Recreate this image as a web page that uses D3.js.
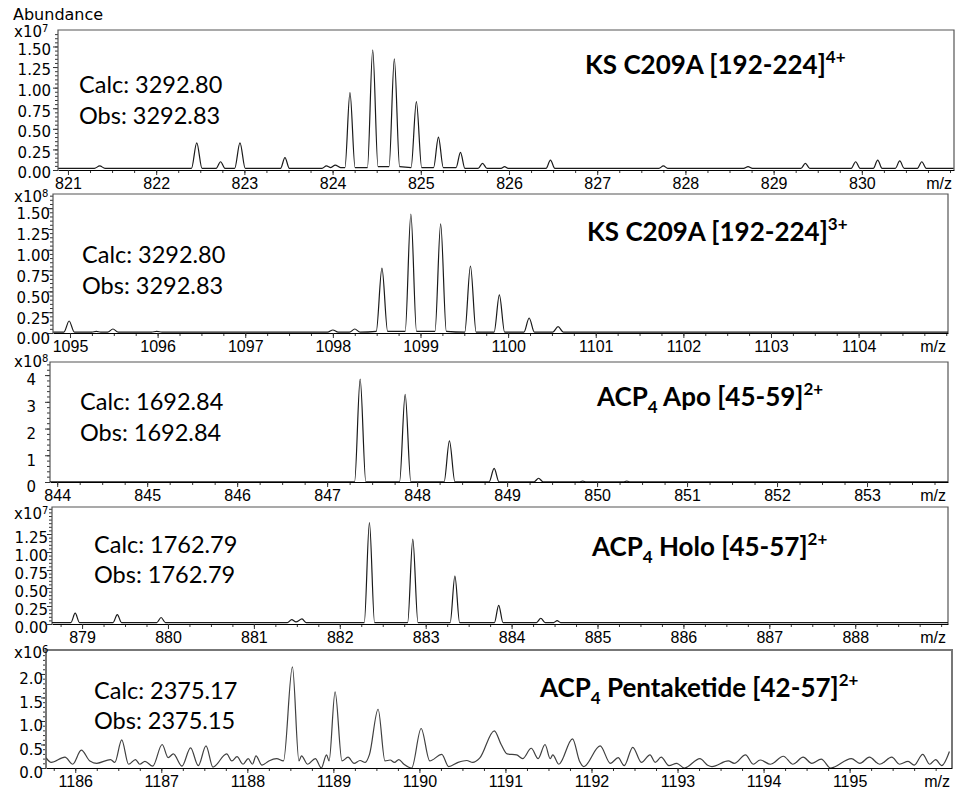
<!DOCTYPE html>
<html>
<head>
<meta charset="utf-8">
<script src="https://cdn.jsdelivr.net/npm/d3@7"></script>
<style>
  body { margin: 0; background: #fff; }
  .xt text { font-family: "Liberation Sans", Arial, sans-serif; font-size: 16px; fill: #000; }
  .yt text { font-family: "DejaVu Sans", sans-serif; font-size: 15px; fill: #000; }
  .lbl { font-family: "DejaVu Sans", sans-serif; font-size: 15px; fill: #000; }
  .note { font-family: Lato, sans-serif; font-size: 23.5px; fill: #000; }
  .title { font-family: Lato, sans-serif; font-size: 26px; font-weight: bold; fill: #000; }
</style>
</head>
<body>
<svg id="chart" width="956" height="790"></svg>
<script>
// profile points [m/z, abundance]
const ksTrace4 = [ // x10^7
  [820.89, 0.02], [821.30, 0.02], [821.36, 0.05], [821.42, 0.02],
  [822.40, 0.02], [822.46, 0.33], [822.52, 0.02],
  [822.68, 0.02], [822.73, 0.10], [822.78, 0.02],
  [822.89, 0.02], [822.95, 0.33], [823.01, 0.02],
  [823.41, 0.02], [823.46, 0.15], [823.51, 0.02],
  [823.88, 0.02], [823.93, 0.05], [823.98, 0.03], [824.03, 0.06], [824.09, 0.03],
  [824.14, 0.03], [824.197, 0.94], [824.255, 0.03],
  [824.395, 0.03], [824.455, 1.46], [824.515, 0.04],
  [824.64, 0.04], [824.70, 1.35], [824.76, 0.04],
  [824.89, 0.03], [824.95, 0.83], [825.01, 0.03],
  [825.145, 0.03], [825.20, 0.40], [825.255, 0.03],
  [825.40, 0.03], [825.45, 0.215], [825.50, 0.02],
  [825.65, 0.02], [825.70, 0.08], [825.75, 0.02],
  [825.91, 0.02], [825.95, 0.04], [825.99, 0.02],
  [826.42, 0.02], [826.47, 0.12], [826.52, 0.02],
  [827.70, 0.02], [827.75, 0.05], [827.80, 0.02],
  [828.66, 0.02], [828.71, 0.04], [828.76, 0.02],
  [829.31, 0.02], [829.36, 0.08], [829.41, 0.02],
  [829.88, 0.02], [829.93, 0.10], [829.98, 0.02],
  [830.13, 0.02], [830.18, 0.12], [830.23, 0.02],
  [830.38, 0.02], [830.43, 0.11], [830.48, 0.02],
  [830.63, 0.02], [830.68, 0.10], [830.73, 0.02],
  [831.04, 0.02]
];

const ksTrace3 = [ // x10^8
  [1094.81, 0.01],
  [1094.93, 0.01], [1094.99, 0.144], [1095.05, 0.01],
  [1095.25, 0.01], [1095.30, 0.02], [1095.35, 0.01],
  [1095.43, 0.01], [1095.49, 0.048], [1095.55, 0.01],
  [1095.93, 0.01], [1095.99, 0.02], [1096.05, 0.01],
  [1097.94, 0.01], [1098.00, 0.036], [1098.06, 0.01],
  [1098.19, 0.01], [1098.25, 0.048], [1098.31, 0.01],
  [1098.495, 0.02], [1098.56, 0.78], [1098.625, 0.02],
  [1098.825, 0.02], [1098.89, 1.43], [1098.955, 0.02],
  [1099.165, 0.02], [1099.23, 1.31], [1099.295, 0.02],
  [1099.505, 0.01], [1099.57, 0.805], [1099.635, 0.01],
  [1099.84, 0.01], [1099.90, 0.457], [1099.96, 0.01],
  [1100.18, 0.01], [1100.24, 0.18], [1100.30, 0.01],
  [1100.51, 0.01], [1100.57, 0.076], [1100.63, 0.01],
  [1105.02, 0.01]
];

const apoTrace = [ // x10^8
  [843.92, 0.01],
  [847.305, 0.01], [847.367, 3.85], [847.43, 0.01],
  [847.805, 0.01], [847.867, 3.28], [847.93, 0.01],
  [848.30, 0.01], [848.359, 1.54], [848.42, 0.01],
  [848.80, 0.01], [848.856, 0.51], [848.91, 0.01],
  [849.30, 0.01], [849.35, 0.14], [849.40, 0.01],
  [849.80, 0.01], [849.84, 0.03], [849.88, 0.01],
  [850.29, 0.01], [850.33, 0.03], [850.37, 0.01],
  [853.90, 0.01]
];

const holoTrace = [ // x10^7
  [878.65, 0.02],
  [878.87, 0.02], [878.92, 0.15], [878.97, 0.02],
  [879.36, 0.02], [879.41, 0.13], [879.46, 0.02],
  [879.87, 0.02], [879.92, 0.09], [879.97, 0.02],
  [881.39, 0.02], [881.44, 0.06], [881.49, 0.03], [881.56, 0.07], [881.61, 0.02],
  [882.285, 0.02], [882.345, 1.41], [882.405, 0.02],
  [882.79, 0.02], [882.85, 1.18], [882.91, 0.02],
  [883.285, 0.02], [883.34, 0.667], [883.395, 0.02],
  [883.80, 0.02], [883.85, 0.26], [883.90, 0.02],
  [884.29, 0.02], [884.34, 0.08], [884.39, 0.02],
  [884.49, 0.02], [884.53, 0.046], [884.57, 0.02],
  [889.08, 0.02]
];

const pentaTrace = [ // x10^6
  [1185.66, 0.22], [1185.72, 0.12], [1185.88, 0.23], [1185.97, 0.08], [1186.07, 0.38],
  [1186.17, 0.15], [1186.25, 0.10], [1186.41, 0.18], [1186.46, 0.12], [1186.54, 0.60],
  [1186.62, 0.08], [1186.70, 0.18], [1186.75, 0.08], [1186.81, 0.14], [1186.90, 0.04],
  [1187.01, 0.50], [1187.08, 0.22], [1187.14, 0.30], [1187.24, 0.04], [1187.34, 0.43],
  [1187.43, 0.05], [1187.52, 0.47], [1187.60, 0.02], [1187.76, 0.30], [1187.82, 0.15],
  [1187.88, 0.24], [1187.95, 0.08], [1188.01, 0.20], [1188.06, 0.08], [1188.10, 0.26],
  [1188.17, 0.06], [1188.25, 0.15], [1188.34, 0.20], [1188.42, 0.15], [1188.524, 2.15],
  [1188.60, 0.15], [1188.63, 0.26], [1188.70, 0.08], [1188.79, 0.20], [1188.86, 0.00],
  [1188.92, 0.28], [1188.95, 0.15], [1189.02, 1.62], [1189.10, 0.15], [1189.17, 0.23],
  [1189.24, 0.10], [1189.31, 0.16], [1189.37, 0.12], [1189.42, 0.29], [1189.52, 1.25],
  [1189.60, 0.15], [1189.66, 0.17], [1189.71, 0.12], [1189.76, 0.18], [1189.82, 0.08],
  [1189.91, 0.00], [1190.02, 0.84], [1190.12, 0.15], [1190.26, 0.29], [1190.34, 0.03],
  [1190.45, 0.12], [1190.55, 0.16], [1190.62, 0.12], [1190.70, 0.21], [1190.87, 0.79],
  [1190.95, 0.50], [1191.02, 0.30], [1191.13, 0.28], [1191.20, 0.20], [1191.30, 0.42],
  [1191.38, 0.20], [1191.46, 0.50], [1191.52, 0.20], [1191.55, 0.28], [1191.62, 0.08],
  [1191.78, 0.62], [1191.86, 0.15], [1191.91, 0.03], [1192.10, 0.47], [1192.22, 0.10],
  [1192.31, 0.22], [1192.38, 0.05], [1192.48, 0.44], [1192.58, 0.12], [1192.68, 0.28],
  [1192.74, 0.12], [1192.81, 0.23], [1192.90, 0.05], [1192.99, 0.10], [1193.08, 0.00],
  [1193.26, 0.20], [1193.35, 0.06], [1193.40, 0.03], [1193.59, 0.15], [1193.66, 0.10],
  [1193.79, 0.28], [1193.88, 0.08], [1193.96, 0.17], [1194.08, 0.08], [1194.23, 0.25],
  [1194.34, 0.08], [1194.46, 0.23], [1194.56, 0.10], [1194.67, 0.19], [1194.78, 0.00],
  [1195.02, 0.20], [1195.12, 0.10], [1195.23, 0.23], [1195.35, 0.08], [1195.49, 0.23],
  [1195.58, 0.08], [1195.68, 0.14], [1195.75, 0.06], [1195.85, 0.29], [1195.93, 0.08],
  [1196.00, 0.18], [1196.07, 0.05], [1196.16, 0.35]
];

// tick labels
const ksXTicks4 = [821, 822, 823, 824, 825, 826, 827, 828, 829, 830];
const ksXTicks3 = [1095, 1096, 1097, 1098, 1099, 1100, 1101, 1102, 1103, 1104];
const apoXTicks = [844, 845, 846, 847, 848, 849, 850, 851, 852, 853];
const holoXTicks = [879, 880, 881, 882, 883, 884, 885, 886, 887, 888];
const pentaXTicks = [1186, 1187, 1188, 1189, 1190, 1191, 1192, 1193, 1194, 1195];

const ksYTicks = [0, 0.25, 0.5, 0.75, 1.0, 1.25, 1.5];
const apoYTicks = [0, 1, 2, 3, 4];
const holoYTicks = [0, 0.25, 0.5, 0.75, 1.0, 1.25];
const pentaYTicks = [0, 0.5, 1.0, 1.5, 2.0];

const exponents = ['7', '8', '8', '7', '6'];

const calcLabels = ['Calc: 3292.80', 'Calc: 3292.80', 'Calc: 1692.84', 'Calc: 1762.79', 'Calc: 2375.17'];
const obsLabels = ['Obs: 3292.83', 'Obs: 3292.83', 'Obs: 1692.84', 'Obs: 1762.79', 'Obs: 2375.15'];

const titles = [
  [['KS C209A [192-224]', ''], ['4+', 'sup']],
  [['KS C209A [192-224]', ''], ['3+', 'sup']],
  [['ACP', ''], ['4', 'sub'], [' Apo [45-59]', ''], ['2+', 'sup']],
  [['ACP', ''], ['4', 'sub'], [' Holo [45-57]', ''], ['2+', 'sup']],
  [['ACP', ''], ['4', 'sub'], [' Pentaketide [42-57]', ''], ['2+', 'sup']]
];

// layout of each panel
const panels = [
  {trace: ksTrace4, xTicks: ksXTicks4, yTicks: ksYTicks, fmt: '.2f', yMinor: 0.05,
   xDom: [820.887, 831.045], yMax: 1.70, l: 58, r: 954, t: 30, b: 170,
   yLabR: 51, yLabDy: 3, expY: 37, note: [79, 93, 124], title: [585, 74], color: '#1a1a1a'},
  {trace: ksTrace3, xTicks: ksXTicks3, yTicks: ksYTicks, fmt: '.2f', yMinor: 0.05,
   xDom: [1094.806, 1105.02], yMax: 1.67, l: 53, r: 948, t: 194, b: 333,
   yLabR: 50, yLabDy: 6, expY: 202, note: [82, 263, 294], title: [587, 241], color: '#1a1a1a'},
  {trace: apoTrace, xTicks: apoXTicks, yTicks: apoYTicks, fmt: 'd', yMinor: 0.2,
   xDom: [843.92, 853.9], yMax: 4.49, l: 50, r: 948, t: 362, b: 482,
   yLabR: 36, yLabDy: 5, expY: 367, note: [80, 410, 441], title: [597, 406], color: '#1a1a1a'},
  {trace: holoTrace, xTicks: holoXTicks, yTicks: holoYTicks, fmt: '.2f', yMinor: 0.05,
   xDom: [878.65, 889.08], yMax: 1.625, l: 52, r: 948, t: 507, b: 624,
   yLabR: 48, yLabDy: 4, expY: 519, note: [94, 553, 583], title: [592, 556], color: '#1a1a1a'},
  {trace: pentaTrace, xTicks: pentaXTicks, yTicks: pentaYTicks, fmt: '.1f', yMinor: 0.1,
   xDom: [1185.66, 1196.19], yMax: 2.51, l: 46, r: 952, t: 650, b: 768,
   yLabR: 43, yLabDy: 5, expY: 658, note: [94, 699, 729], title: [540, 697], color: '#404040'}
];

const svg = d3.select('#chart');

svg.append('text')
  .attr('class', 'lbl')
  .attr('x', 13)
  .attr('y', 20)
  .style('font-size', '16px')
  .text('Abundance');

panels.forEach((p, i) => {
  let x = d3.scaleLinear().domain(p.xDom).range([p.l, p.r]);
  let y = d3.scaleLinear().domain([0, p.yMax]).range([p.b, p.t]);

  let g = svg.append('g').attr('class', 'panel');

  g.append('clipPath')
    .attr('id', 'clip' + i)
    .append('rect')
    .attr('x', p.l).attr('y', p.t)
    .attr('width', p.r - p.l).attr('height', p.b - p.t);

  // minor ticks
  let xm = d3.range(Math.ceil(p.xDom[0] * 4) / 4, p.xDom[1], 0.25);
  g.append('g')
    .attr('transform', `translate(0,${p.b})`)
    .call(d3.axisBottom(x).tickValues(xm).tickSize(3).tickFormat(''))
    .call(a => a.select('.domain').remove())
    .selectAll('line').attr('stroke', '#333');

  let ym = d3.range(0, p.yMax, p.yMinor);
  g.append('g')
    .attr('transform', `translate(${p.l},0)`)
    .call(d3.axisLeft(y).tickValues(ym).tickSize(3).tickFormat(''))
    .call(a => a.select('.domain').remove())
    .selectAll('line').attr('stroke', '#333');

  // major ticks
  g.append('g')
    .attr('class', 'xt')
    .attr('transform', `translate(0,${p.b})`)
    .call(d3.axisBottom(x).tickValues(p.xTicks).tickSize(5).tickSizeOuter(0).tickPadding(3).tickFormat(d3.format('d')))
    .call(a => a.select('.domain').attr('stroke', '#000').attr('stroke-width', 1.2))
    .call(a => a.selectAll('.tick line').attr('stroke', '#333'));

  let yAxis = g.append('g')
    .attr('class', 'yt')
    .attr('transform', `translate(${p.l},0)`)
    .call(d3.axisLeft(y).tickValues(p.yTicks).tickSize(5).tickPadding(p.l - p.yLabR - 5).tickFormat(d3.format(p.fmt)))
    .call(a => a.select('.domain').remove())
    .call(a => a.selectAll('.tick line').attr('stroke', '#333'));
  yAxis.selectAll('text').attr('y', p.yLabDy);

  // frame
  g.append('path')
    .attr('d', `M${p.l},${p.b}V${p.t}H${p.r}V${p.b}`)
    .attr('fill', 'none')
    .attr('stroke', i === 4 ? '#777' : '#555')
    .attr('stroke-width', i === 4 ? 2 : 1.2);

  // spectrum
  let line = d3.line()
    .x(d => x(d[0]))
    .y(d => y(d[1]))
    .curve(d3.curveMonotoneX);

  g.append('path')
    .datum(p.trace)
    .attr('clip-path', `url(#clip${i})`)
    .attr('d', line)
    .attr('fill', 'none')
    .attr('stroke', p.color)
    .attr('stroke-width', 1.2)
    .attr('stroke-linejoin', 'round');

  // multiplier label
  let ex = g.append('text')
    .attr('class', 'lbl')
    .attr('x', 14)
    .attr('y', p.expY)
    .text('x10');
  ex.append('tspan')
    .attr('dy', -5)
    .style('font-size', '10px')
    .text(exponents[i]);

  g.append('text')
    .attr('x', p.r - 2)
    .attr('y', p.b + 19)
    .attr('text-anchor', 'end')
    .style('font-family', '"Liberation Sans", Arial, sans-serif')
    .style('font-size', '16px')
    .text('m/z');

  // calc / obs notes
  g.append('text').attr('class', 'note')
    .attr('x', p.note[0]).attr('y', p.note[1])
    .text(calcLabels[i]);
  g.append('text').attr('class', 'note')
    .attr('x', p.note[0]).attr('y', p.note[2])
    .text(obsLabels[i]);

  // title with sub/superscripts
  let title = g.append('text')
    .attr('class', 'title')
    .attr('x', p.title[0])
    .attr('y', p.title[1]);
  let shift = 0;
  titles[i].forEach(([txt, kind]) => {
    let target = kind === 'sup' ? -11 : kind === 'sub' ? 7 : 0;
    let ts = title.append('tspan')
      .attr('dy', target - shift)
      .text(txt);
    if (kind) ts.style('font-size', '17px');
    shift = target;
  });
});
</script>
</body>
</html>
